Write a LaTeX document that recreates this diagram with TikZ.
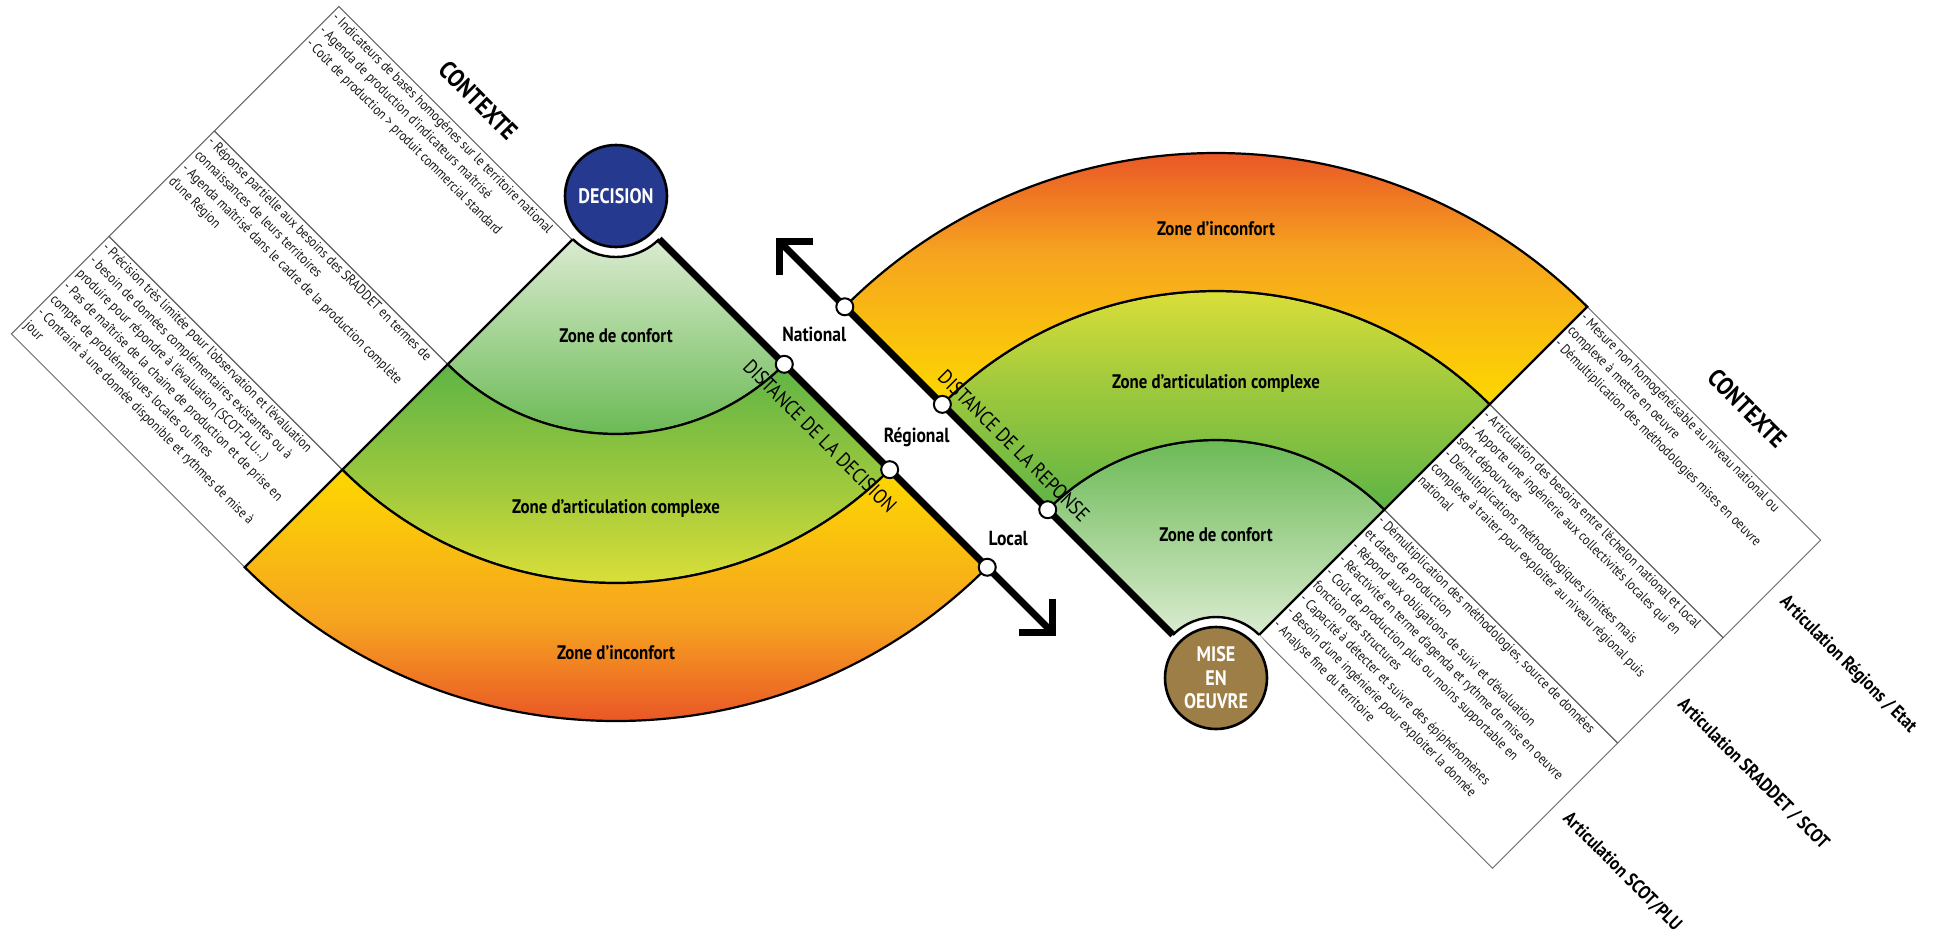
\documentclass[tikz,border=0pt]{standalone}
\usepackage{fontspec}
\setmainfont{PT Sans}[FakeStretch=0.86]
\usetikzlibrary{arrows.meta,calc}

\definecolor{decblue}{HTML}{25398E}
\definecolor{mebrown}{HTML}{9E7E47}
\definecolor{palegreen}{HTML}{F3F6EC}
\definecolor{zgreen}{HTML}{5EB446}
\definecolor{zlime}{HTML}{A2CA3C}
\definecolor{zyellow}{HTML}{F1E737}
\definecolor{zgold}{HTML}{FDD800}
\definecolor{zamber}{HTML}{F6A41F}
\definecolor{zred}{HTML}{E3302A}
\definecolor{txtgray}{HTML}{1A1718}

\tikzset{
  zone/.style={draw=black, line width=1.1pt},
  panel/.style={draw=black!60, line width=0.5pt},
  paneltext/.style={rotate=-45, anchor=north west, align=left, inner sep=0pt,
    font=\fontsize{7.1}{9.2}\selectfont, text=txtgray},
  zonelabel/.style={font=\bfseries\fontsize{9.8}{11}\selectfont},
  level/.style={font=\bfseries\fontsize{10.2}{11}\selectfont},
  axislabel/.style={rotate=-45, font=\fontsize{10.3}{11}\selectfont},
  context/.style={rotate=-45, font=\bfseries\fontsize{12.5}{14}\selectfont},
  articul/.style={rotate=-45, anchor=west, font=\bfseries\fontsize{9.5}{11}\selectfont},
  marker/.style={circle, draw=black, fill=white, line width=1pt, minimum size=8.5pt, inner sep=0pt},
  pole/.style={circle, draw=black, line width=1.3pt, minimum size=51pt, inner sep=0pt,
    text=white, align=center, font=\bfseries\fontsize{10.5}{11.8}\selectfont},
  axisline/.style={line width=3.5pt, -{Straight Barb[length=12pt,width=24pt]}}
}

\begin{document}
\begin{tikzpicture}[x=0.5pt,y=-0.5pt]
\useasboundingbox (0,0) rectangle (1943,949);
\coordinate (apL) at (616,196);
\coordinate (apR) at (1216,678);
\coordinate (arrD) at (1056,636);
\coordinate (arrR) at (776,238);

% panels left
\begin{scope}[shift={(apL)}, rotate=-45]
\draw[panel] (-330,62) rectangle (0,238);
\draw[panel] (-330,238) rectangle (0,387);
\draw[panel] (-330,387) rectangle (0,525);
\node[paneltext] (ctxA) at (-327,65) {- Indicateurs de bases homogénes sur le territoire national\\
- Agenda de production d’indicateurs maîtrisé\\
- Coût de production > produit commercial standard};
\node[paneltext] (ctxB) at (-327,241) {- Réponse partielle aux besoins des SRADDET en termes de\\
connaissances  de leurs territoires\\
- Agenda maîtrisé dans le cadre de la production complète\\
d’une Région};
\node[paneltext] (ctxC) at (-327,390) {- Précision très limitée pour l’observation et l’évaluation\\
- besoin de données complémentaires existantes ou à\\
produire pour répondre à l’évaluation (SCOT-PLU…)\\
- Pas de maîtrise de la chaine de production et de prise en\\
compte de problématiques locales ou fines\\
- Contraint à une donnée disponible et rythmes de mise à\\
jour};
\node[context] (ctxL) at (-165,30) {CONTEXTE};
\end{scope}

% panels right
\begin{scope}[shift={(apR)}, rotate=-45]
\draw[panel] (0,-525) rectangle (330,-387);
\draw[panel] (0,-387) rectangle (330,-238);
\draw[panel] (0,-238) rectangle (330,-61);
\node[paneltext] (ctxD) at (3,-522) {- Mesure non homogénéisable au niveau national ou\\
complexe à mettre en oeuvre\\
- Démultiplication des méthodologies mises en oeuvre};
\node[paneltext] (ctxE) at (3,-384) {- Articulation des besoins entre l’échelon national et  local\\
- Apporte une ingénierie aux collectivités locales qui en\\
sont dépourvues\\
- Démultiplications méthodologiques limitées mais\\
complexe à traiter pour exploiter au niveau régional puis\\
national};
\node[paneltext] (ctxF) at (3,-235) {- Démultiplication des méthodologies, source de données\\
et dates de production\\
- Répond aux obligations de suivi et d’évaluation\\
- Réactivité en terme d’agenda et rythme de mise en oeuvre\\
- Coût de production plus ou moins supportable en\\
fonction des structures\\
- Capacité à détecter et suivre des épiphénomènes\\
- Besoin d’une ingénierie pour exploiter la donnée\\
- Analyse fine du territoire};
\node[context] (ctxR) at (185,-566) {CONTEXTE};
\node[articul] (artA) at (338,-456) {Articulation  Régions / Etat};
\node[articul] (artB) at (338,-312) {Articulation SRADDET / SCOT};
\node[articul] (artC) at (338,-150) {Articulation SCOT/PLU};
\end{scope}

% fan decision
\draw[zone, top color=palegreen, bottom color=zgreen] (apL) -- ($(apL)+(45:238)$)
  arc[start angle=45, end angle=135, radius=238] -- cycle;
\draw[zone, top color=zgreen, bottom color=zyellow, middle color=zlime] ($(apL)+(45:238)$)
  arc[start angle=45, end angle=135, radius=238] -- ($(apL)+(135:387)$)
  arc[start angle=135, end angle=45, radius=387] -- cycle;
\draw[zone, top color=zgold, bottom color=zred, middle color=zamber] ($(apL)+(45:387)$)
  arc[start angle=45, end angle=135, radius=387] -- ($(apL)+(135:525)$)
  arc[start angle=135, end angle=45, radius=525] -- cycle;

% fan mise en oeuvre
\draw[zone, top color=zgreen, bottom color=palegreen] (apR) -- ($(apR)+(-45:238)$)
  arc[start angle=-45, end angle=-135, radius=238] -- cycle;
\draw[zone, top color=zyellow, bottom color=zgreen, middle color=zlime] ($(apR)+(-45:238)$)
  arc[start angle=-45, end angle=-135, radius=238] -- ($(apR)+(-135:387)$)
  arc[start angle=-135, end angle=-45, radius=387] -- cycle;
\draw[zone, top color=zred, bottom color=zgold, middle color=zamber] ($(apR)+(-45:387)$)
  arc[start angle=-45, end angle=-135, radius=387] -- ($(apR)+(-135:525)$)
  arc[start angle=-135, end angle=-45, radius=525] -- cycle;

\node[zonelabel] (zcL) at (616,336) {Zone de confort};
\node[zonelabel] (zaL) at (616,508) {Zone d’articulation complexe};
\node[zonelabel] (ziL) at (616,653) {Zone d’inconfort};
\node[zonelabel] (zcR) at (1216,535) {Zone de confort};
\node[zonelabel] (zaR) at (1216,383) {Zone d’articulation complexe};
\node[zonelabel] (ziR) at (1216,229) {Zone d’inconfort};

% axes
\draw[axisline] (apL) -- (arrD);
\draw[axisline] (apR) -- (arrR);
\fill[white] (apL) circle[radius=61];
\fill[white] (apR) circle[radius=61];
\draw[line width=1.2pt] ($(apL)+(45:61)$) arc[start angle=45, end angle=135, radius=61];
\draw[line width=1.2pt] ($(apR)+(-45:61)$) arc[start angle=-45, end angle=-135, radius=61];

\foreach \r/\nm in {238/N,387/R,525/L} {
  \node[marker] (m\nm) at ($(apL)+(45:\r)$) {};
  \node[marker] (p\nm) at ($(apR)+(-135:\r)$) {};
}
\node[level] (lvN) at ($(mN)+(30,-30)$) {National};
\node[level] (lvR) at ($(mR)+(27,-32)$) {Régional};
\node[level] (lvL) at ($(mL)+(21,-29)$) {Local};

\node[axislabel] (distD) at (820,436) {DISTANCE DE LA DECISION};
\node[axislabel] (distR) at (1014,446) {DISTANCE DE LA REPONSE};

\node[pole, fill=decblue] (dec) at (apL) {DECISION};
\node[pole, fill=mebrown] (meo) at (apR) {MISE\\EN\\OEUVRE};
\end{tikzpicture}
\end{document}
